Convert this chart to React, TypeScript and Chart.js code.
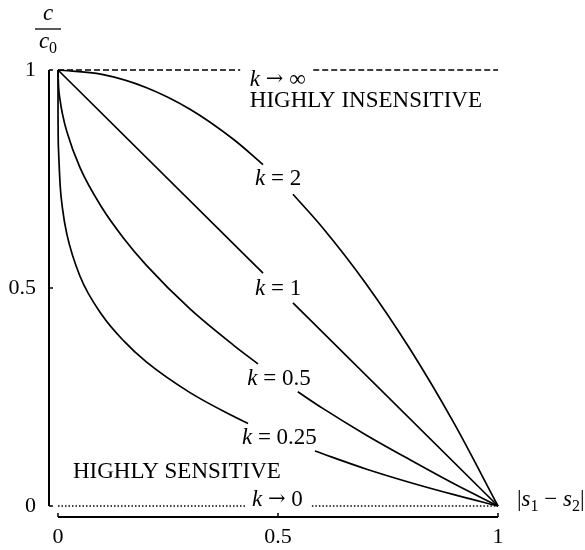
import React, { useEffect, useRef } from "react";
import { Chart, registerables } from "chart.js";

Chart.register(...registerables);

// Axis ticks
const xTicks = [0, 0.5, 1];
const xTickLabels = ["0", "0.5", "1"];
const yTicks = [0, 0.5, 1];
const yTickLabels = ["0", "0.5", "1"];

// c/c0 against |s1 - s2| for each k (null = gap where the label sits)
const k2X = [0, 0.1, 0.2, 0.3, 0.4, 0.466, 0.5, 0.534, 0.6, 0.7, 0.8, 0.9, 1];
const k2Y = [1, 0.99, 0.96, 0.91, 0.84, 0.783, null, 0.715, 0.64, 0.51, 0.36, 0.19, 0];

const k1X = [0, 0.466, 0.5, 0.534, 1];
const k1Y = [1, 0.534, null, 0.466, 0];

const kHalfX = [0, 0.001, 0.005, 0.01, 0.02, 0.05, 0.1, 0.15, 0.2, 0.3, 0.4, 0.4545, 0.5, 0.545, 0.6, 0.7, 0.8, 0.9, 1];
const kHalfY = [1, 0.968, 0.929, 0.9, 0.859, 0.776, 0.684, 0.613, 0.553, 0.452, 0.368, 0.326, null, 0.262, 0.225, 0.163, 0.106, 0.051, 0];

const kQuarterX = [0, 0.0001, 0.001, 0.005, 0.01, 0.02, 0.05, 0.1, 0.15, 0.2, 0.3, 0.4, 0.432, 0.5, 0.584, 0.7, 0.8, 0.9, 1];
const kQuarterY = [1, 0.9, 0.822, 0.734, 0.684, 0.624, 0.527, 0.438, 0.378, 0.331, 0.26, 0.205, 0.189, null, 0.126, 0.085, 0.054, 0.026, 0];

// Limits k -> infinity (dashed) and k -> 0 (dotted)
const kInfX = [0, 0.414, 0.5, 0.58, 1];
const kInfY = [1, 1, null, 1, 1];
const kZeroX = [0, 0.425, 0.5, 0.577, 1];
const kZeroY = [0, 0, null, 0, 0];

const SERIF = "'Liberation Serif', 'Times New Roman', serif";
const SYMBOL = "'DejaVu Serif', serif";
const TICK_FONT = 22;
const LABEL_FONT = 23;

type Run = { t: string; it?: boolean; sub?: boolean; sym?: boolean };

const ARROW: Run = { t: "\u2192", sym: true };

// Curve labels: runs of text, anchored at (x, y) in data units, baseline-aligned
const curveLabels: { runs: Run[]; x: number; y: number }[] = [
  { runs: [{ t: "k", it: true }, { t: " " }, ARROW, { t: " \u221E" }], x: 0.436, y: 0.963 },
  { runs: [{ t: "HIGHLY INSENSITIVE" }], x: 0.436, y: 0.915 },
  { runs: [{ t: "k", it: true }, { t: " = 2" }], x: 0.448, y: 0.736 },
  { runs: [{ t: "k", it: true }, { t: " = 1" }], x: 0.448, y: 0.484 },
  { runs: [{ t: "k", it: true }, { t: " = 0.5" }], x: 0.43, y: 0.278 },
  { runs: [{ t: "k", it: true }, { t: " = 0.25" }], x: 0.418, y: 0.142 },
  { runs: [{ t: "HIGHLY SENSITIVE" }], x: 0.034, y: 0.064 },
  { runs: [{ t: "k", it: true }, { t: " " }, ARROW, { t: " 0" }], x: 0.441, y: 0.0 },
];

const pts = (xs: number[], ys: (number | null)[]) => xs.map((x, i) => ({ x, y: ys[i] }));

function runFont(r: Run, size: number) {
  const s = r.sub ? Math.round(size * 0.7) : r.sym ? size - 2 : size;
  return `${r.it ? "italic " : ""}${s}px ${r.sym ? SYMBOL : SERIF}`;
}

function drawRuns(ctx: CanvasRenderingContext2D, x: number, y: number, runs: Run[], size: number) {
  let cx = x;
  for (const r of runs) {
    ctx.font = runFont(r, size);
    ctx.fillText(r.t, cx, r.sub ? y + size * 0.22 : r.sym ? y - 1 : y);
    cx += ctx.measureText(r.t).width;
  }
  return cx;
}

function measureRuns(ctx: CanvasRenderingContext2D, runs: Run[], size: number) {
  let w = 0;
  for (const r of runs) {
    ctx.font = runFont(r, size);
    w += ctx.measureText(r.t).width;
  }
  return w;
}

const framePlugin = {
  id: "rangeFrame",
  afterDraw(chart: any) {
    const { ctx } = chart;
    const xs = chart.scales.x;
    const ys = chart.scales.y;
    const x0 = xs.getPixelForValue(0);
    const x1 = xs.getPixelForValue(1);
    const y0 = ys.getPixelForValue(0);
    const y1 = ys.getPixelForValue(1);
    const spineX = x0 - 9;
    const spineY = y0 + 11;

    ctx.save();
    ctx.strokeStyle = "#000";
    ctx.fillStyle = "#000";
    ctx.lineWidth = 2;
    ctx.lineCap = "butt";

    // Offset axis spines covering the data range
    ctx.beginPath();
    ctx.moveTo(spineX, y1);
    ctx.lineTo(spineX, y0);
    ctx.moveTo(x0, spineY);
    ctx.lineTo(x1, spineY);
    ctx.stroke();

    // Inward tick marks
    ctx.lineWidth = 1.5;
    ctx.beginPath();
    for (const v of yTicks) {
      const py = ys.getPixelForValue(v);
      ctx.moveTo(spineX, py);
      ctx.lineTo(spineX + 4, py);
    }
    for (const v of xTicks) {
      const px = xs.getPixelForValue(v);
      ctx.moveTo(px, spineY);
      ctx.lineTo(px, spineY - 4);
    }
    ctx.stroke();

    // Curve labels
    ctx.textBaseline = "alphabetic";
    ctx.textAlign = "left";
    for (const l of curveLabels) {
      drawRuns(ctx, xs.getPixelForValue(l.x), ys.getPixelForValue(l.y), l.runs, LABEL_FONT);
    }

    // x axis title |s1 - s2|
    drawRuns(
      ctx,
      x1 + 19,
      y0,
      [{ t: "|" }, { t: "s", it: true }, { t: "1", sub: true }, { t: " \u2212 " }, { t: "s", it: true }, { t: "2", sub: true }, { t: "|" }],
      LABEL_FONT
    );

    // y axis title c / c0 as a fraction
    const cx = spineX - 1;
    const numRuns: Run[] = [{ t: "c", it: true }];
    const denRuns: Run[] = [{ t: "c", it: true }, { t: "0", sub: true }];
    const nw = measureRuns(ctx, numRuns, LABEL_FONT);
    const dw = measureRuns(ctx, denRuns, LABEL_FONT);
    drawRuns(ctx, cx - nw / 2, 20, numRuns, LABEL_FONT);
    drawRuns(ctx, cx - dw / 2, 48, denRuns, LABEL_FONT);
    ctx.lineWidth = 1.3;
    ctx.beginPath();
    ctx.moveTo(cx - 13, 29);
    ctx.lineTo(cx + 13, 29);
    ctx.stroke();

    ctx.restore();
  },
};

export default function App() {
  const ref = useRef<HTMLCanvasElement | null>(null);

  useEffect(() => {
    if (!ref.current) return;
    const curve = (xs: number[], ys: (number | null)[], smooth: boolean) => ({
      data: pts(xs, ys),
      borderColor: "#000",
      borderWidth: 1.7,
      pointRadius: 0,
      fill: false,
      spanGaps: false,
      clip: false,
      tension: 0,
      cubicInterpolationMode: smooth ? "monotone" : "default",
    });

    const chart = new Chart(ref.current, {
      type: "line",
      data: {
        datasets: [
          curve(k2X, k2Y, true),
          curve(k1X, k1Y, false),
          curve(kHalfX, kHalfY, true),
          curve(kQuarterX, kQuarterY, true),
          { ...curve(kInfX, kInfY, false), borderWidth: 1.3, borderDash: [6, 3] },
          { ...curve(kZeroX, kZeroY, false), borderWidth: 1.5, borderDash: [1.5, 2] },
        ] as any,
      },
      options: {
        animation: false,
        responsive: false,
        events: [],
        layout: { padding: { left: 0, top: 70, right: 87, bottom: 0 } },
        plugins: { legend: { display: false }, tooltip: { enabled: false } },
        scales: {
          x: {
            type: "linear",
            min: 0,
            max: 1,
            afterBuildTicks: (s: any) => {
              s.ticks = xTicks.map((v) => ({ value: v }));
            },
            afterFit: (s: any) => {
              s.height = 44;
            },
            grid: { display: false, drawTicks: false },
            border: { display: false },
            ticks: {
              padding: 18,
              color: "#000",
              font: { family: SERIF, size: TICK_FONT },
              maxRotation: 0,
              autoSkip: false,
              callback: (v: any) => xTickLabels[xTicks.indexOf(Number(v))],
            },
          },
          y: {
            type: "linear",
            min: 0,
            max: 1,
            afterBuildTicks: (s: any) => {
              s.ticks = yTicks.map((v) => ({ value: v }));
            },
            afterFit: (s: any) => {
              s.width = 58;
            },
            grid: { display: false, drawTicks: false },
            border: { display: false },
            ticks: {
              padding: 22,
              color: "#000",
              font: { family: SERIF, size: TICK_FONT },
              autoSkip: false,
              callback: (v: any) => yTickLabels[yTicks.indexOf(Number(v))],
            },
          },
        },
      },
      plugins: [framePlugin],
    });
    return () => chart.destroy();
  }, []);

  return (
    <div style={{ position: "absolute", left: 0, top: 0, width: 585, height: 550, background: "#fff" }}>
      <canvas ref={ref} width={585} height={550} />
    </div>
  );
}
